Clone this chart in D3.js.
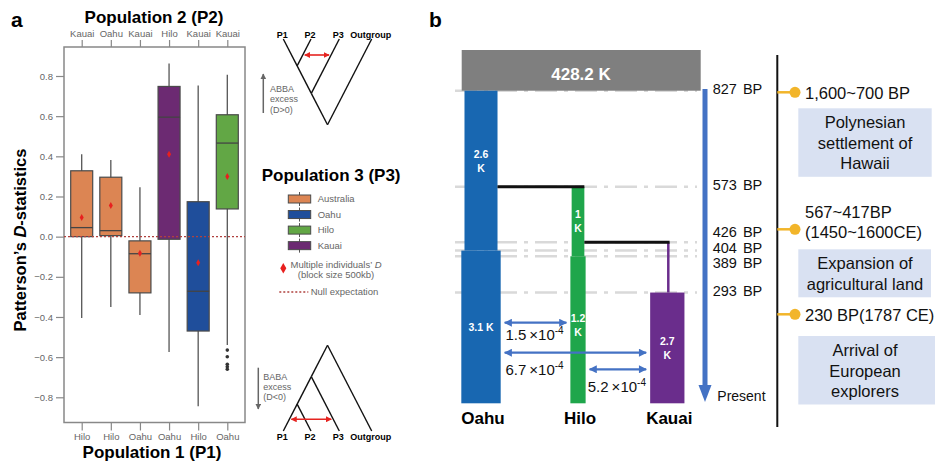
<!DOCTYPE html>
<html>
<head>
<meta charset="utf-8">
<script src="https://cdn.jsdelivr.net/npm/d3@7"></script>
<style>
  body { margin: 0; background: #fff; }
  svg { display: block; font-family: "Liberation Sans", Arial, sans-serif; }
</style>
</head>
<body>
<svg id="fig" width="940" height="464"></svg>
<script>
// ---- panel a data ----
const p1Labels = ['Hilo', 'Hilo', 'Oahu', 'Oahu', 'Hilo', 'Oahu'];
const p2Labels = ['Kauai', 'Oahu', 'Kauai', 'Hilo', 'Kauai', 'Kauai'];
const p3Groups = ['Australia', 'Australia', 'Australia', 'Kauai', 'Oahu', 'Hilo'];
const whiskerLo = [-0.405, -0.35, -0.39, -0.575, -0.845, -0.54];
const q1 = [0.0, 0.005, -0.28, -0.013, -0.47, 0.138];
const medians = [0.045, 0.03, -0.085, 0.595, -0.272, 0.466];
const q3 = [0.328, 0.296, -0.021, 0.748, 0.174, 0.607];
const whiskerHi = [0.41, 0.382, 0.246, 0.862, 0.753, 0.806];
const means = [0.095, 0.155, -0.083, 0.41, -0.13, 0.3];
const outliers = [[], [], [], [], [], [-0.565, -0.598, -0.636, -0.648, -0.66]];
const dTicks = [-0.8, -0.6, -0.4, -0.2, 0, 0.2, 0.4, 0.6, 0.8];
const p3Legend = ['Australia', 'Oahu', 'Hilo', 'Kauai'];
const p3Colors = ['#dc8553', '#1f4e9b', '#62a745', '#6c2a72'];
const treeTips = ['P1', 'P2', 'P3', 'Outgroup'];

// ---- panel b data ----
const popNames = ['Oahu', 'Hilo', 'Kauai'];
const popColors = ['#1867b1', '#1fa64b', '#6a2d8c'];
const ancestralNe = 428.2;
const rootTime = 827;
const splitTimes = [827, 573, 426, 404, 389, 293];
const branchStart = [827, 573, 426];
const resizeTime = [404, 389, 293];
const neOld = [2.6, 1, null];
const neNew = [3.1, 1.2, 2.7];
const joins = [['Oahu', 'Hilo', 573], ['Hilo', 'Kauai', 426]];
const migPairs = [['Oahu', 'Hilo'], ['Oahu', 'Kauai'], ['Hilo', 'Kauai']];
const migRates = ['1.5', '6.7', '5.2'];
const eventDates = [['1,600~700 BP'], ['567~417BP', '(1450~1600CE)'], ['230 BP(1787 CE)']];
const eventNames = [['Polynesian', 'settlement of', 'Hawaii'], ['Expansion of', 'agricultural land'], ['Arrival of', 'European', 'explorers']];

const svg = d3.select('#fig');

const defs = svg.append('defs');
function marker(id, fill, w, h) {
  defs.append('marker')
    .attr('id', id)
    .attr('viewBox', '0 0 10 10')
    .attr('refX', 9).attr('refY', 5)
    .attr('markerUnits', 'userSpaceOnUse')
    .attr('markerWidth', w).attr('markerHeight', h)
    .attr('orient', 'auto-start-reverse')
    .append('path').attr('d', 'M0,0 L10,5 L0,10 z').attr('fill', fill);
}
marker('redHead', '#e52420', 6, 6);
marker('greyHead', '#666', 6, 6);
marker('blueHead', '#4472c4', 9, 8);

// =================== panel a ===================
const a = svg.append('g');
const plot = { left: 64, right: 245, top: 47, bottom: 422.5 };
const x = d3.scalePoint().domain(d3.range(p1Labels.length)).range([81.7, 227.3]);
const y = d3.scaleLinear().domain([-0.8, 0.8]).range([397.3, 76]);
const color = d3.scaleOrdinal(p3Legend, p3Colors);
const boxW = 22;

a.append('text').attr('x', 11).attr('y', 27).text('a')
  .style('font-weight', 'bold').style('font-size', '21px');

function styleAxis(g) {
  g.select('.domain').remove();
  g.selectAll('.tick line').attr('stroke', '#888').attr('stroke-width', 1.2);
  g.selectAll('.tick text').attr('fill', '#666').style('font-size', '9.5px')
    .style('font-family', '"Liberation Sans", Arial, sans-serif');
}

a.append('g').attr('transform', `translate(${plot.left},0)`)
  .call(d3.axisLeft(y).tickValues(dTicks).tickFormat(d3.format('.1f')).tickSize(8).tickPadding(3))
  .call(styleAxis);
a.append('g').attr('transform', `translate(0,${plot.top})`)
  .call(d3.axisTop(x).tickFormat(i => p2Labels[i]).tickSize(7).tickPadding(3))
  .call(styleAxis);
a.append('g').attr('transform', `translate(0,${plot.bottom})`)
  .call(d3.axisBottom(x).tickFormat(i => p1Labels[i]).tickSize(8).tickPadding(3))
  .call(styleAxis);

a.append('rect')
  .attr('x', plot.left).attr('y', plot.top)
  .attr('width', plot.right - plot.left).attr('height', plot.bottom - plot.top)
  .attr('fill', 'none').attr('stroke', '#888').attr('stroke-width', 1.5);

a.append('text').attr('x', 154).attr('y', 23).attr('text-anchor', 'middle')
  .text('Population 2 (P2)').style('font-weight', 'bold').style('font-size', '17px');
a.append('text').attr('x', 152).attr('y', 458).attr('text-anchor', 'middle')
  .text('Population 1 (P1)').style('font-weight', 'bold').style('font-size', '17px');
const yTitle = a.append('text').attr('transform', 'translate(26,240) rotate(-90)')
  .attr('text-anchor', 'middle').style('font-weight', 'bold').style('font-size', '16.5px');
yTitle.append('tspan').text('Patterson\u2019s ');
yTitle.append('tspan').text('D').style('font-style', 'italic');
yTitle.append('tspan').text('-statistics');

const idx = d3.range(p1Labels.length);
const boxes = a.append('g').selectAll('g').data(idx).join('g');
boxes.append('line')
  .attr('x1', i => x(i)).attr('x2', i => x(i))
  .attr('y1', i => y(whiskerHi[i])).attr('y2', i => y(whiskerLo[i]))
  .attr('stroke', '#555').attr('stroke-width', 1.3);
boxes.append('rect')
  .attr('x', i => x(i) - boxW / 2).attr('width', boxW)
  .attr('y', i => y(q3[i])).attr('height', i => y(q1[i]) - y(q3[i]))
  .attr('fill', i => color(p3Groups[i])).attr('stroke', '#4a4a4a').attr('stroke-width', 1.2);
boxes.append('line')
  .attr('x1', i => x(i) - boxW / 2).attr('x2', i => x(i) + boxW / 2)
  .attr('y1', i => y(medians[i])).attr('y2', i => y(medians[i]))
  .attr('stroke', '#444').attr('stroke-width', 1.3);
boxes.selectAll('circle').data(i => outliers[i].map(v => [i, v])).join('circle')
  .attr('cx', d => x(d[0])).attr('cy', d => y(d[1])).attr('r', 1.8).attr('fill', '#333');

a.append('line').attr('x1', plot.left).attr('x2', plot.right)
  .attr('y1', y(0)).attr('y2', y(0))
  .attr('stroke', '#b0413e').attr('stroke-width', 1.3).attr('stroke-dasharray', '2,2');

boxes.append('path')
  .attr('d', d3.symbol(d3.symbolDiamond, 14))
  .attr('transform', i => `translate(${x(i)},${y(means[i])})`)
  .attr('fill', '#e8201f');

// legend
const lg = a.append('g');
lg.append('text').attr('x', 261.7).attr('y', 180.5).text('Population 3 (P3)')
  .style('font-weight', 'bold').style('font-size', '17px');
const items = lg.selectAll('g.item').data(p3Legend).join('g')
  .attr('transform', (d, i) => `translate(0,${199 + i * 15.55})`);
items.append('line').attr('x1', 299.5).attr('x2', 299.5).attr('y1', -7).attr('y2', 7)
  .attr('stroke', '#555').attr('stroke-width', 1);
items.append('rect').attr('x', 288.3).attr('y', -4).attr('width', 22.4).attr('height', 8)
  .attr('fill', d => color(d)).attr('stroke', '#4a4a4a').attr('stroke-width', 1);
items.append('text').attr('x', 317.7).attr('y', 3.3).text(d => d)
  .attr('fill', '#666').style('font-size', '9.5px');

lg.append('path').attr('d', d3.symbol(d3.symbolDiamond, 32))
  .attr('transform', 'translate(283.3,268.3)').attr('fill', '#e8201f');
const mt = lg.append('text').attr('x', 336).attr('y', 267.5).attr('text-anchor', 'middle')
  .attr('fill', '#666').style('font-size', '9.5px');
mt.append('tspan').text('Multiple individuals\u2019 ');
mt.append('tspan').text('D').style('font-style', 'italic');
lg.append('text').attr('x', 336).attr('y', 277.8).attr('text-anchor', 'middle')
  .attr('fill', '#666').style('font-size', '9.5px').text('(block size 500kb)');
lg.append('line').attr('x1', 279.3).attr('x2', 308.3).attr('y1', 292).attr('y2', 292)
  .attr('stroke', '#b0413e').attr('stroke-width', 1.3).attr('stroke-dasharray', '2,2');
lg.append('text').attr('x', 310.7).attr('y', 295).attr('fill', '#666')
  .style('font-size', '9.5px').text('Null expectation');

// trees
const tipX = d3.scaleOrdinal(treeTips, [283.3, 311, 339.3, 371.7]);
const treeShape = { children: [{ children: [{ children: [{ name: 'P1' }, { name: 'P2' }] }, { name: 'P3' }] }, { name: 'Outgroup' }] };

function drawTree(tipY, dir, labelY, arrowY, pair) {
  const root = d3.hierarchy(treeShape);
  root.eachAfter(n => {
    if (!n.children) { n.x = tipX(n.data.name); n.lo = n.hi = n.x; }
    else {
      n.lo = d3.min(n.children, c => c.lo);
      n.hi = d3.max(n.children, c => c.hi);
      n.x = (n.lo + n.hi) / 2;
    }
    n.y = tipY + dir * (n.hi - n.lo) * 0.97;
  });
  const g = a.append('g');
  g.selectAll('line').data(root.links()).join('line')
    .attr('x1', d => d.source.x).attr('y1', d => d.source.y)
    .attr('x2', d => d.target.x).attr('y2', d => d.target.y)
    .attr('stroke', '#111').attr('stroke-width', 1.4);
  g.selectAll('text').data(root.leaves()).join('text')
    .attr('x', d => d.x - 1).attr('y', labelY).attr('text-anchor', 'middle')
    .text(d => d.data.name).style('font-weight', 'bold').style('font-size', '9px');
  const armX = name => {
    const leaf = root.leaves().find(l => l.data.name === name);
    const p = leaf.parent;
    const k = (arrowY - leaf.y) / (p.y - leaf.y);
    return leaf.x + k * (p.x - leaf.x);
  };
  g.append('line')
    .attr('x1', armX(pair[0]) + 2).attr('x2', armX(pair[1]) - 2)
    .attr('y1', arrowY).attr('y2', arrowY)
    .attr('stroke', '#e52420').attr('stroke-width', 1.6)
    .attr('marker-start', 'url(#redHead)').attr('marker-end', 'url(#redHead)');
}
drawTree(39, 1, 37.5, 55, ['P2', 'P3']);
drawTree(431, -1, 440, 419.3, ['P1', 'P3']);

a.append('line').attr('x1', 263.3).attr('x2', 263.3).attr('y1', 113).attr('y2', 74)
  .attr('stroke', '#666').attr('stroke-width', 1.5).attr('marker-end', 'url(#greyHead)');
a.append('line').attr('x1', 258.3).attr('x2', 258.3).attr('y1', 367.7).attr('y2', 409)
  .attr('stroke', '#666').attr('stroke-width', 1.5).attr('marker-end', 'url(#greyHead)');
a.append('g').selectAll('text').data(['ABBA', 'excess', '(D>0)']).join('text')
  .attr('x', 270).attr('y', (d, i) => 91.5 + i * 10.5).text(d => d)
  .attr('fill', '#666').style('font-size', '9px');
a.append('g').selectAll('text').data(['BABA', 'excess', '(D<0)']).join('text')
  .attr('x', 263.3).attr('y', (d, i) => 379.5 + i * 10.3).text(d => d)
  .attr('fill', '#666').style('font-size', '9px');

// =================== panel b ===================
const b = svg.append('g');
b.append('text').attr('x', 429).attr('y', 27).text('b')
  .style('font-weight', 'bold').style('font-size', '21px');

const t = d3.scaleLinear().domain([0, rootTime]).range([403.3, 90.7]);
const px = d3.scaleOrdinal(popNames, [481, 578, 667.3]);
const w = d3.scaleLinear().domain([0, 1]).range([0, 12.7]);
const popColor = d3.scaleOrdinal(popNames, popColors);

b.append('g').selectAll('line').data(splitTimes).join('line')
  .attr('x1', 455).attr('x2', 697)
  .attr('y1', d => t(d)).attr('y2', d => t(d))
  .attr('stroke', '#d9d9d9').attr('stroke-width', 2.5).attr('stroke-dasharray', '22,7,4,7');

b.append('rect').attr('x', 461.7).attr('y', 50).attr('width', 239).attr('height', t(rootTime) - 50)
  .attr('fill', '#7f7f7f');
b.append('text').attr('x', 581).attr('y', 80).attr('text-anchor', 'middle')
  .text(`${ancestralNe} K`).attr('fill', '#fff')
  .style('font-weight', 'bold').style('font-size', '17px');

// population branches
popNames.forEach((p, i) => {
  if (neOld[i] != null) {
    b.append('rect')
      .attr('x', px(p) - w(neOld[i]) / 2).attr('width', w(neOld[i]))
      .attr('y', t(branchStart[i])).attr('height', t(resizeTime[i]) - t(branchStart[i]))
      .attr('fill', popColor(p));
  } else {
    b.append('line').attr('x1', px(p) + 1).attr('x2', px(p) + 1)
      .attr('y1', t(branchStart[i])).attr('y2', t(resizeTime[i]))
      .attr('stroke', popColor(p)).attr('stroke-width', 2.5);
  }
  b.append('rect')
    .attr('x', px(p) - w(neNew[i]) / 2).attr('width', w(neNew[i]))
    .attr('y', t(resizeTime[i])).attr('height', t(0) - t(resizeTime[i]))
    .attr('fill', popColor(p));
});

// Ne labels inside bars
function neLabel(p, ne, top, bottom, shift) {
  const lines = w(ne) < 36 ? [String(ne), 'K'] : [`${ne} K`];
  const mid = (t(top) + t(bottom)) / 2 + shift;
  b.append('g').selectAll('text').data(lines).join('text')
    .attr('x', px(p)).attr('y', (d, j) => mid + 4 + (j - (lines.length - 1) / 2) * 14)
    .attr('text-anchor', 'middle').text(d => d).attr('fill', '#fff')
    .style('font-weight', 'bold').style('font-size', '10.5px');
}
popNames.forEach((p, i) => {
  if (neOld[i] != null) neLabel(p, neOld[i], branchStart[i], resizeTime[i], i === 0 ? -10 : 0);
  neLabel(p, neNew[i], resizeTime[i], 0, i === 1 ? -5 : 0);
});

// split joins
const oldHalf = p => {
  const i = popNames.indexOf(p);
  return neOld[i] != null ? w(neOld[i]) / 2 : 2.3;
};
b.append('g').selectAll('line').data(joins).join('line')
  .attr('x1', d => px(d[0]) + oldHalf(d[0])).attr('x2', d => px(d[1]) + oldHalf(d[1]))
  .attr('y1', d => t(d[2])).attr('y2', d => t(d[2]))
  .attr('stroke', '#111').attr('stroke-width', 3);

// migration
const migRowY = [322.7, 352.7, 369.3];
const migLabelY = [339.5, 374.5, 391.7];
const newHalf = p => w(neNew[popNames.indexOf(p)]) / 2;
migPairs.forEach((pair, i) => {
  const x1 = px(pair[0]) + newHalf(pair[0]) + 4;
  const x2 = px(pair[1]) - newHalf(pair[1]) - 4;
  const next = popNames[popNames.indexOf(pair[0]) + 1];
  const xEnd = px(next) - newHalf(next) - 4;
  b.append('line').attr('x1', x1).attr('x2', x2).attr('y1', migRowY[i]).attr('y2', migRowY[i])
    .attr('stroke', '#4472c4').attr('stroke-width', 2.2)
    .attr('marker-start', 'url(#blueHead)').attr('marker-end', 'url(#blueHead)');
  const tx = b.append('text').attr('x', (x1 + xEnd) / 2 - 1).attr('y', migLabelY[i])
    .attr('text-anchor', 'middle').attr('fill', '#111').style('font-size', '15px');
  tx.append('tspan').text(`${migRates[i]}\u2009\u00d710`);
  tx.append('tspan').text('-4').attr('dy', -6).style('font-size', '10px');
});

b.append('g').selectAll('text').data(popNames).join('text')
  .attr('x', d => px(d) + 2).attr('y', 424).attr('text-anchor', 'middle').text(d => d)
  .style('font-weight', 'bold').style('font-size', '17px');

// time axis
b.append('rect').attr('x', 702.5).attr('y', 89).attr('width', 5).attr('height', 297)
  .attr('fill', '#4472c4');
b.append('path').attr('d', 'M698.5,385 L711.5,385 L705,402 Z').attr('fill', '#4472c4');

// spread crowded time labels around their cluster mean
const labY = splitTimes.map(d => t(d));
const clusters = [];
labY.forEach((v, i) => {
  const last = clusters[clusters.length - 1];
  if (last && v - labY[last[last.length - 1]] < 15) last.push(i);
  else clusters.push([i]);
});
const labPos = labY.slice();
clusters.forEach(c => {
  const m = d3.mean(c, i => labY[i]);
  c.forEach((i, j) => { labPos[i] = m - 2 + (j - (c.length - 1) / 2) * 15.5; });
});
b.append('g').selectAll('text').data(splitTimes).join('text')
  .attr('x', 712.7).attr('y', (d, i) => labPos[i] + 5).text(d => `${d} BP`)
  .attr('fill', '#111').style('font-size', '14.5px').style('word-spacing', '2px');
b.append('text').attr('x', 717.3).attr('y', 401).text('Present')
  .attr('fill', '#111').style('font-size', '14px');

// event timeline
const tl = svg.append('g');
const eventDotY = [92.3, 229.3, 314.3];
const eventBoxTop = [108.3, 249.3, 336];
const eventBoxW = [133.4, 132.7, 136.7];
tl.append('line').attr('x1', 777.3).attr('x2', 777.3).attr('y1', 55).attr('y2', 427)
  .attr('stroke', '#111').attr('stroke-width', 2);
eventDates.forEach((lines, i) => {
  tl.append('line').attr('x1', 777.3).attr('x2', 795).attr('y1', eventDotY[i]).attr('y2', eventDotY[i])
    .attr('stroke', '#f2b52a').attr('stroke-width', 2.5);
  tl.append('circle').attr('cx', 795).attr('cy', eventDotY[i]).attr('r', 5.5).attr('fill', '#f2b52a');
  tl.append('g').selectAll('text').data(lines).join('text')
    .attr('x', 805).attr('y', (d, j) => eventDotY[i] + 6.5 - (lines.length - 1 - j) * 20 + (lines.length > 1 ? 2 : 0))
    .text(d => d).attr('fill', '#111').style('font-size', '16.5px');
  const names = eventNames[i];
  const h = names.length * 20.5 + 7;
  tl.append('rect').attr('x', 798.3).attr('y', eventBoxTop[i]).attr('width', eventBoxW[i]).attr('height', h)
    .attr('fill', '#d9e1f2');
  tl.append('g').selectAll('text').data(names).join('text')
    .attr('x', 865).attr('y', (d, j) => eventBoxTop[i] + 20 + j * 20.5)
    .attr('text-anchor', 'middle').text(d => d).attr('fill', '#111').style('font-size', '16.5px');
});
</script>
</body>
</html>
